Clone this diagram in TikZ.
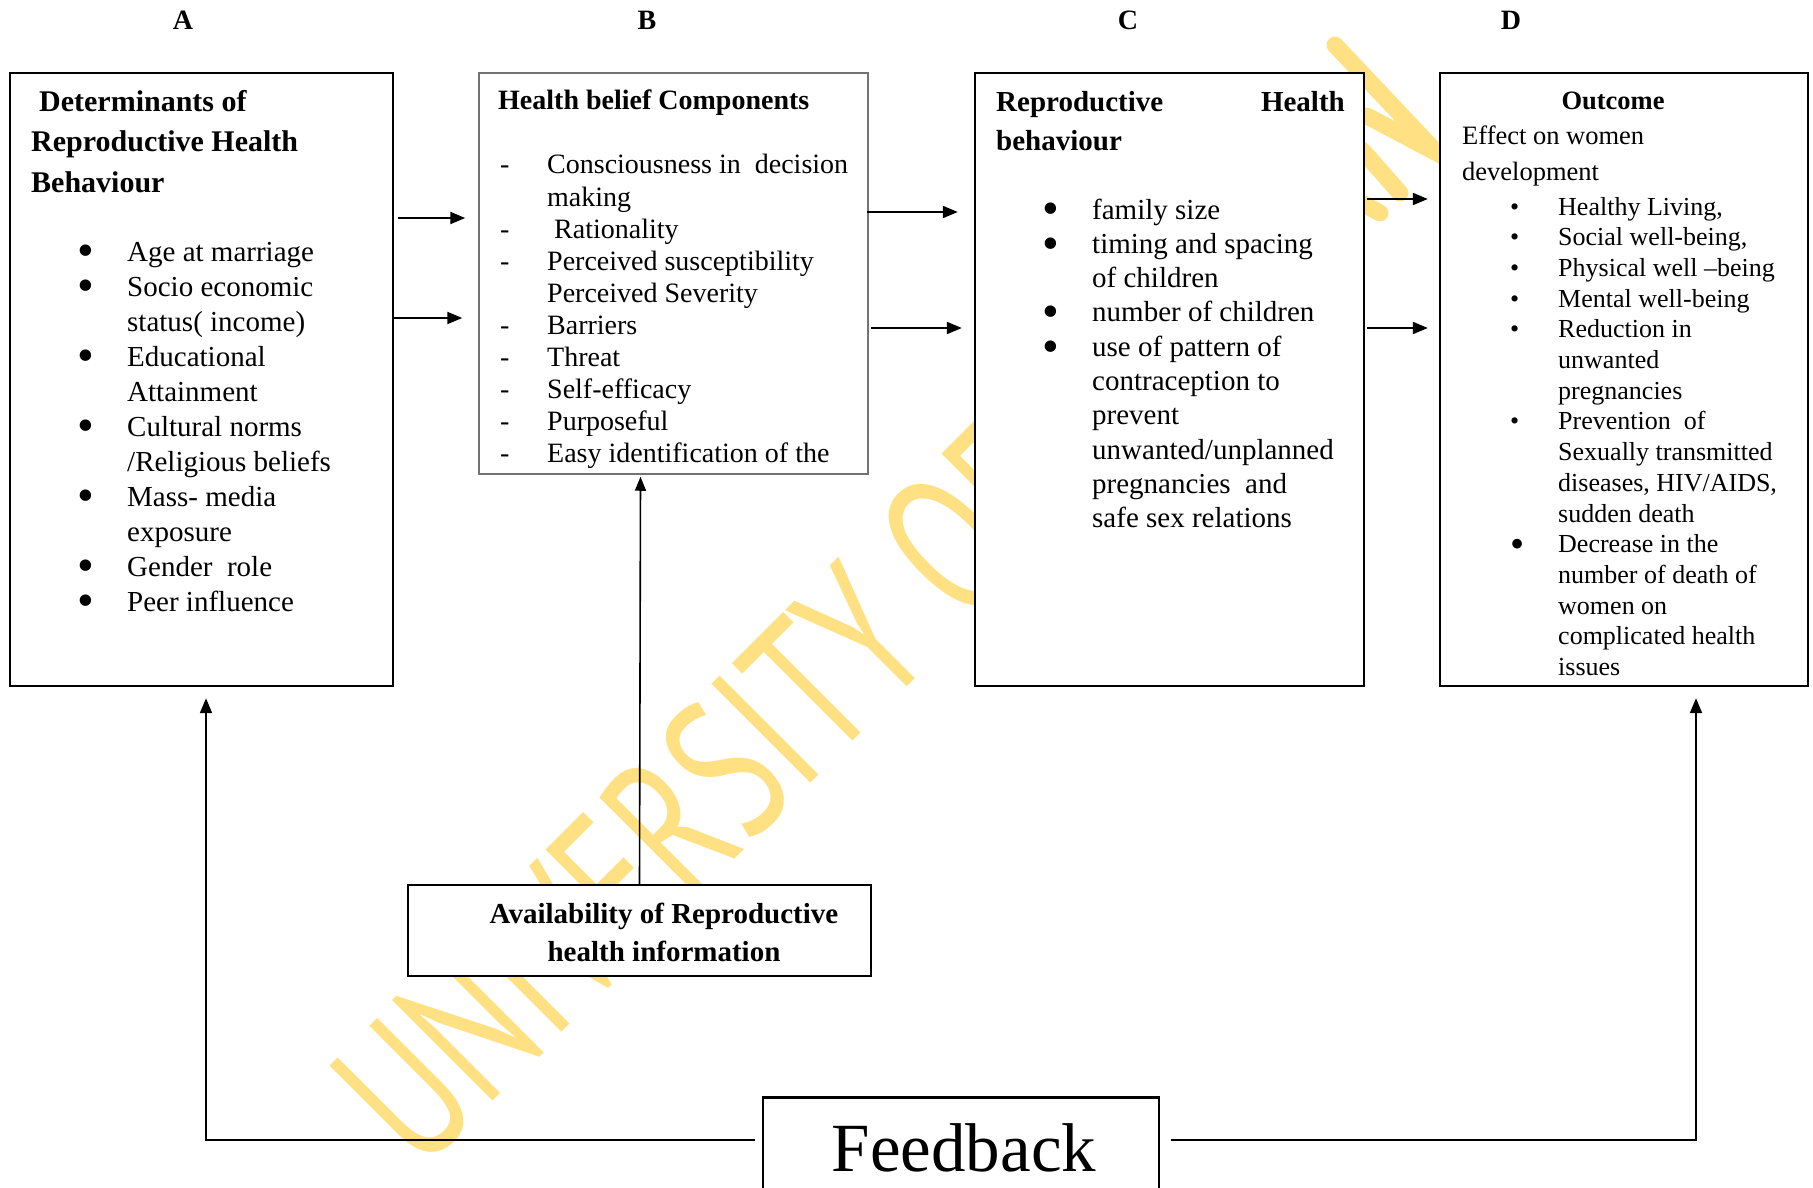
\documentclass[tikz,border=0pt]{standalone}
\usepackage{fontspec}
\setmainfont{Liberation Serif}
\newfontfamily\wmfont{PT Sans}
\usetikzlibrary{calc,arrows.meta}
\definecolor{wm}{RGB}{255,224,130}
\newcommand\bigbul{\raisebox{-5.8pt}{\scalebox{1.65}{\textbullet}}}
\newcommand\bulA{\makebox[50pt][l]{\bigbul}}
\newcommand\hngA{\hspace*{50pt}}
\newcommand\dshB{\makebox[47pt][l]{-}}
\newcommand\hngB{\hspace*{47pt}}
\newcommand\bulC{\makebox[50pt][l]{\bigbul}}
\newcommand\hngC{\hspace*{50pt}}
\newcommand\bulD{\makebox[48pt][l]{\textbullet}}
\newcommand\bulDD{\makebox[48pt][l]{\raisebox{-4.5pt}{\scalebox{1.55}{\textbullet}}}}
\newcommand\hngD{\hspace*{48pt}}
\tikzset{
  box/.style={draw, line width=2.4pt, fill=white, inner sep=0pt},
  thinbox/.style={draw=black!55, line width=1.5pt, fill=white, inner sep=0pt},
  txt/.style={inner sep=0pt, anchor=base west},
  arr/.style={line width=2pt, -{Triangle[length=15pt,width=12pt]}},
  lbl/.style={inner sep=0pt, anchor=base, font=\bfseries\fontsize{28}{28}\selectfont},
  wmstroke/.style={draw=wm, line width=17pt, line cap=round}
}
\begin{document}
\begin{tikzpicture}[x=1pt,y=-1pt]
\useasboundingbox (0,0) rectangle (1813,1188);
% watermark
\begin{scope}
\clip (0,0) rectangle (1813,1188);
\node[inner sep=0pt, anchor=base west, rotate=45, text=wm] (wmk) at (420,1174)
  {\scalebox{0.7}[1]{\wmfont\fontsize{200}{200}\selectfont UNIVERSITY OF}};
\draw[wmstroke] (1335,45) -- (1437,153) -- (1367,116);
\draw[wmstroke] (1362,150) -- (1400,193);
\draw[wmstroke] (1360,202) -- (1380,213);
\end{scope}
% column labels
\node[lbl] (LA) at (183,30) {A};
\node[lbl] (LB) at (647,30) {B};
\node[lbl] (LC) at (1128,30) {C};
\node[lbl] (LD) at (1511,30) {D};
% boxes
\node[box, minimum width=383pt, minimum height=613pt] (A) at (201.5,379.5) {};
\node[thinbox, minimum width=389pt, minimum height=401pt] (B) at (673.5,273.5) {};
\node[box, minimum width=389pt, minimum height=613pt] (C) at (1169.5,379.5) {};
\node[box, minimum width=368pt, minimum height=613pt] (D) at (1624,379.5) {};
\node[box, minimum width=463pt, minimum height=91pt] (Av) at (639.5,930.5) {};
\node[draw, line width=1.2pt, fill=white, minimum width=396pt, minimum height=150pt] (F) at (961,1173) {};
\draw[line width=3pt] (F.north west) -- (F.north east);
% box A text
\begin{scope}[every node/.style={txt, font=\bfseries\fontsize{30}{30}\selectfont}]
\node (at1) at (39,112) {Determinants of};
\node (at2) at (31,152) {Reproductive Health};
\node (at3) at (31,193) {Behaviour};
\end{scope}
\foreach \t [count=\i from 0] in {{\bulA Age at marriage},{\bulA Socio economic},{\hngA status( income)},{\bulA Educational},{\hngA Attainment},{\bulA Cultural norms},{\hngA /Religious beliefs},{\bulA Mass- media},{\hngA exposure},{\bulA Gender\ \ role},{\bulA Peer influence}}
  \node[txt, font=\fontsize{29}{29}\selectfont] (a\i) at (77,{261+\i*35}) {\t};
% box B text
\node[txt, font=\bfseries\fontsize{28}{28}\selectfont] (bt) at (498,110) {Health belief Components};
\foreach \t [count=\i from 0] in {{\dshB Consciousness in\ \ decision},{\hngB making},{\dshB\ Rationality},{\dshB Perceived susceptibility},{\hngB Perceived Severity},{\dshB Barriers},{\dshB Threat},{\dshB Self-efficacy},{\dshB Purposeful},{\dshB Easy identification of the}}
  \node[txt, font=\fontsize{28}{28}\selectfont] (b\i) at (500,{174+\i*32.1}) {\t};
% box C text
\begin{scope}[every node/.style={inner sep=0pt, font=\bfseries\fontsize{29}{29}\selectfont}]
\node[anchor=base west] (ct1) at (996,112) {Reproductive};
\node[anchor=base east] (ct2) at (1345,112) {Health};
\node[anchor=base west] (ct3) at (996,151) {behaviour};
\end{scope}
\foreach \t [count=\i from 0] in {{\bulC family size},{\bulC timing and spacing},{\hngC of children},{\bulC number of children},{\bulC use of pattern of},{\hngC contraception to},{\hngC prevent},{\hngC unwanted/unplanned},{\hngC pregnancies\ \ and},{\hngC safe sex relations}}
  \node[txt, font=\fontsize{29}{29}\selectfont] (c\i) at (1042,{219+\i*34.3}) {\t};
% box D text
\node[inner sep=0pt, anchor=base, font=\bfseries\fontsize{26.5}{26.5}\selectfont] (dt) at (1613,110) {Outcome};
\node[txt, font=\fontsize{26.5}{26.5}\selectfont] (de1) at (1462,145) {Effect on women};
\node[txt, font=\fontsize{26.5}{26.5}\selectfont] (de2) at (1462,180) {development};
\foreach \t [count=\i from 0] in {{\bulD Healthy Living,},{\bulD Social well-being,},{\bulD Physical well \textendash being},{\bulD Mental well-being},{\bulD Reduction in},{\hngD unwanted},{\hngD pregnancies},{\bulD Prevention\ \ of},{\hngD Sexually transmitted},{\hngD diseases, HIV/AIDS,},{\hngD sudden death},{\bulDD Decrease in the},{\hngD number of death of},{\hngD women on},{\hngD complicated health},{\hngD issues}}
  \node[txt, font=\fontsize{26}{26}\selectfont] (d\i) at (1510,{215+\i*30.7}) {\t};
% availability text
\begin{scope}[every node/.style={inner sep=0pt, anchor=base, font=\bfseries\fontsize{29}{29}\selectfont}]
\node (av1) at (664,923) {Availability of Reproductive};
\node (av2) at (664,961) {health information};
\end{scope}
% feedback text
\node[inner sep=0pt, anchor=base, font=\fontsize{69}{69}\selectfont] (fb) at (964,1171) {Feedback};
% arrows
\coordinate (y1) at (0,218);
\coordinate (y2) at (0,318);
\coordinate (y3) at (0,212);
\coordinate (y4) at (0,328);
\coordinate (y5) at (0,199);
\coordinate (yF) at (0,1140);
\draw[arr] ($(A.east|-y1)+(4,0)$) -- ($(B.west|-y1)+(-13,0)$);
\draw[arr] ($(A.east|-y2)+(0,0)$) -- ($(B.west|-y2)+(-16,0)$);
\draw[arr] ($(B.east|-y3)+(-2,0)$) -- ($(C.west|-y3)+(-16,0)$);
\draw[arr] ($(B.east|-y4)+(2,0)$) -- ($(C.west|-y4)+(-12,0)$);
\draw[arr] ($(C.east|-y5)+(2,0)$) -- ($(D.west|-y5)+(-11,0)$);
\draw[arr] ($(C.east|-y4)+(2,0)$) -- ($(D.west|-y4)+(-11,0)$);
\draw[line width=1.6pt, -{Triangle[length=14pt,width=11pt]}] (Av.north) -- ($(Av.north|-B.south)+(1,2)$);
\draw[arr] ($(F.west|-yF)+(-7,0)$) -| ($(A.south)+(4.5,11)$);
\draw[arr] ($(F.east|-yF)+(11,0)$) -| ($(D.south)+(72,11)$);
\end{tikzpicture}
\end{document}
